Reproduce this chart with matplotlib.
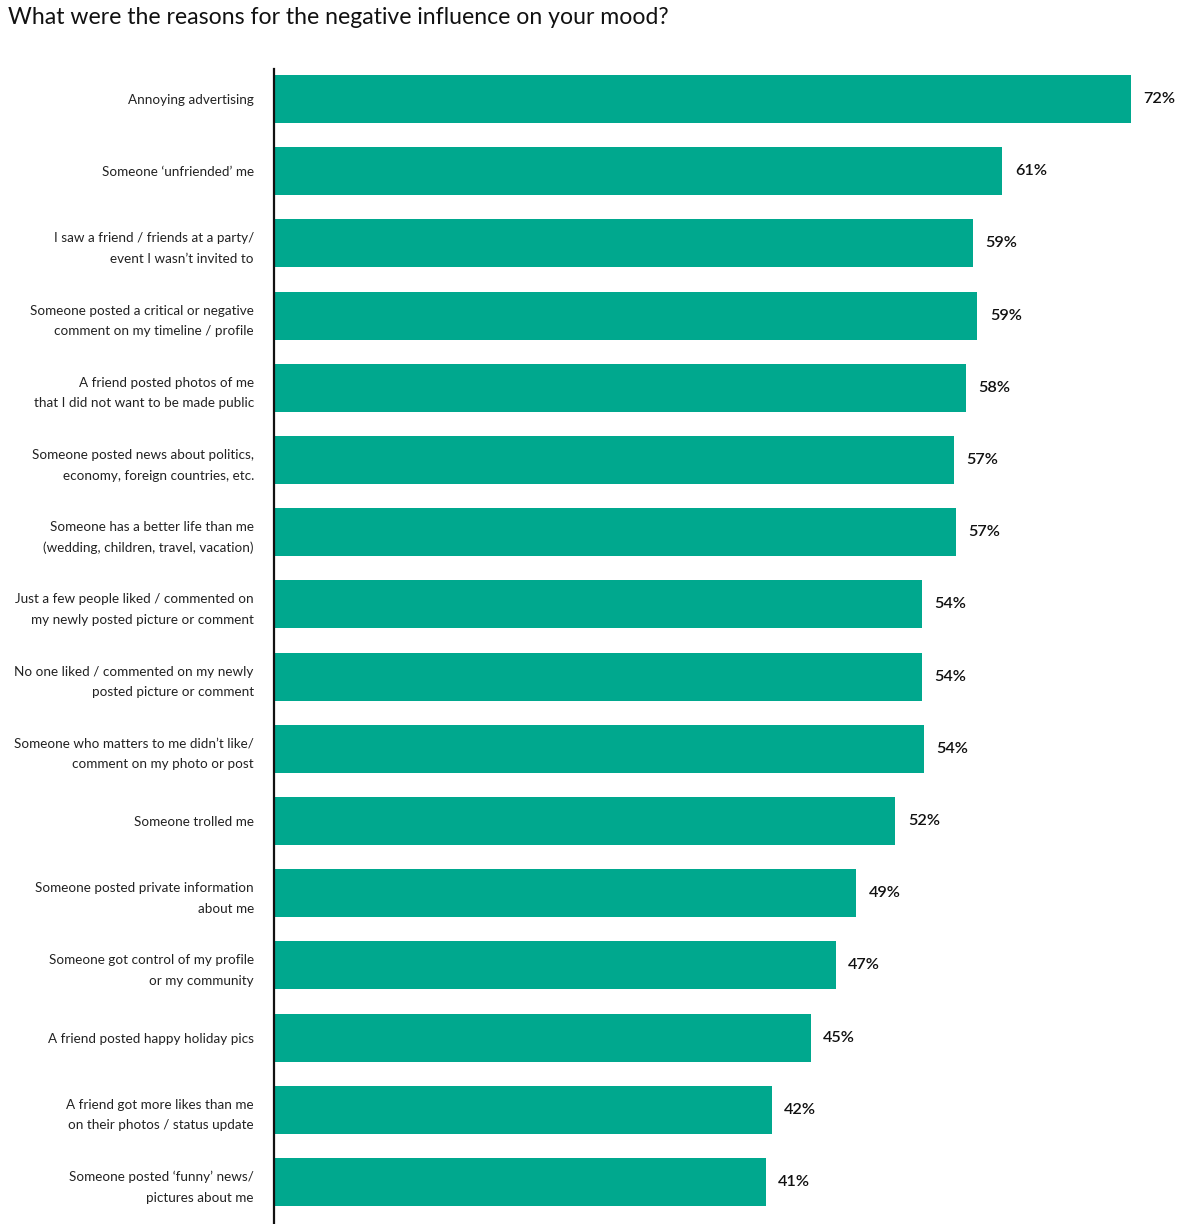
import matplotlib
matplotlib.use("Agg")
import matplotlib.pyplot as plt
from matplotlib.transforms import offset_copy

plt.rcParams['font.family'] = ['Lato', 'DejaVu Sans']

title = "What were the reasons for the negative influence on your mood?"
categories = [
    "Annoying advertising",
    "Someone \u2018unfriended\u2019 me",
    "I saw a friend / friends at a party/\nevent I wasn\u2019t invited to",
    "Someone posted a critical or negative\ncomment on my timeline / profile",
    "A friend posted photos of me\nthat I did not want to be made public",
    "Someone posted news about politics,\neconomy, foreign countries, etc.",
    "Someone has a better life than me\n(wedding, children, travel, vacation)",
    "Just a few people liked / commented on\nmy newly posted picture or comment",
    "No one liked / commented on my newly\nposted picture or comment",
    "Someone who matters to me didn\u2019t like/\ncomment on my photo or post",
    "Someone trolled me",
    "Someone posted private information\nabout me",
    "Someone got control of my profile\nor my community",
    "A friend posted happy holiday pics",
    "A friend got more likes than me\non their photos / status update",
    "Someone posted \u2018funny\u2019 news/\npictures about me",
]
values = [72.0, 61.2, 58.7, 59.1, 58.1, 57.1, 57.3, 54.4, 54.4, 54.6,
          52.2, 48.9, 47.2, 45.1, 41.8, 41.3]
value_labels = ["72%", "61%", "59%", "59%", "58%", "57%", "57%", "54%", "54%", "54%",
                "52%", "49%", "47%", "45%", "42%", "41%"]

W, H = 1200, 1224
fig = plt.figure(figsize=(W / 100, H / 100), dpi=100)
ax_left, ax_right = 274, 1190
ax_top, ax_bottom = 69, 1224
ax = fig.add_axes([ax_left / W, 1 - ax_bottom / H, (ax_right - ax_left) / W, (ax_bottom - ax_top) / H])

px_per_pct = (1132 - 275) / 72.0
color = "#00A88E"
y = list(range(len(categories)))
ax.barh(y, values, height=0.665, color=color, left=0)
ax.set_xlim(0, (ax_right - ax_left) / px_per_pct)
ax.set_ylim(len(categories) - 1 + 0.58, -0.415)

ax.set_yticks(y)
ax.set_yticklabels(categories, fontsize=9.7, color="#222222", linespacing=1.85, ha="right")
ax.tick_params(axis="y", length=0, pad=14.5)
ax.set_xticks([])
for s in ["top", "right", "bottom"]:
    ax.spines[s].set_visible(False)
ax.spines["left"].set_linewidth(1.6)
ax.spines["left"].set_color("#111111")

trans = offset_copy(ax.transData, fig=fig, x=9, y=0, units="points")
for yi, v, lab in zip(y, values, value_labels):
    ax.text(v, yi, lab, transform=trans, ha="left", va="center", fontsize=11.7,
            fontweight="semibold", color="#111111")

fig.text(8 / W, 1 - 18 / H, title, fontsize=16.6, ha="left", va="center", color="#111111")

fig.savefig("out.png", dpi=100)
